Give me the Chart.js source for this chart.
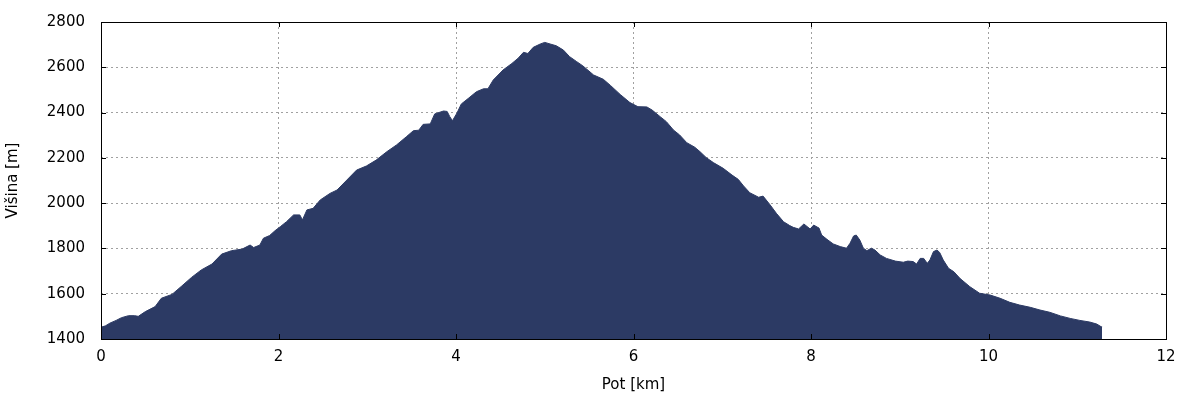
<!DOCTYPE html>
<html>
<head>
<meta charset="utf-8">
<script src="https://cdn.jsdelivr.net/npm/chart.js@4"></script>
<style>
  html, body { margin: 0; padding: 0; background: #fff; }
  #wrap { width: 1200px; height: 400px; }
</style>
</head>
<body>
<div id="wrap"><canvas id="profil"></canvas></div>
<script>
// razdalja [km] in višina [m], odčitano s profila
var razdalja = [
  0.00, 0.05, 0.10, 0.17, 0.23, 0.31, 0.38, 0.42, 0.50, 0.61, 0.68, 0.80, 0.91,
  1.02, 1.13, 1.25, 1.36, 1.47, 1.59, 1.68, 1.72, 1.79, 1.83, 1.90, 1.96,
  2.02, 2.09, 2.17, 2.24, 2.27, 2.32, 2.39, 2.47, 2.58, 2.66, 2.77, 2.88, 2.99,
  3.10, 3.22, 3.33, 3.44, 3.52, 3.58, 3.63, 3.71, 3.76, 3.86, 3.90, 3.93, 3.96,
  4.01, 4.06, 4.14, 4.23, 4.31, 4.36, 4.42, 4.53, 4.63, 4.70, 4.76, 4.81, 4.87, 4.95,
  5.00, 5.06, 5.13, 5.21, 5.28, 5.36, 5.43, 5.55, 5.66, 5.74, 5.85, 5.96,
  6.05, 6.15, 6.21, 6.30, 6.37, 6.45, 6.52, 6.60, 6.69, 6.75, 6.82, 6.90,
  7.01, 7.11, 7.18, 7.24, 7.31, 7.41, 7.46, 7.54, 7.61, 7.69, 7.76, 7.80, 7.86, 7.92, 7.99,
  8.03, 8.09, 8.12, 8.18, 8.25, 8.33, 8.40, 8.44, 8.48, 8.51, 8.55, 8.59, 8.63, 8.68, 8.72, 8.78, 8.85, 8.95,
  9.04, 9.09, 9.15, 9.19, 9.23, 9.27, 9.31, 9.34, 9.38, 9.42, 9.45, 9.49, 9.55, 9.61, 9.68, 9.79, 9.90,
  10.02, 10.13, 10.24, 10.35, 10.47, 10.58, 10.69, 10.81, 10.92,
  11.03, 11.14, 11.22, 11.27, 11.28
];
var visina = [
  1452, 1458, 1470, 1482, 1494, 1503, 1503, 1500, 1521, 1543, 1580, 1597, 1634,
  1672, 1705, 1731, 1775, 1790, 1797, 1815, 1804, 1815, 1845, 1857, 1878,
  1896, 1918, 1948, 1948, 1926, 1970, 1977, 2014, 2043, 2058, 2102, 2146, 2164,
  2190, 2227, 2257, 2293, 2320, 2322, 2348, 2350, 2394, 2407, 2405, 2382, 2364,
  2397, 2438, 2463, 2492, 2505, 2505, 2544, 2588, 2617, 2640, 2666, 2661, 2688, 2703,
  2710, 2703, 2695, 2676, 2647, 2625, 2606, 2566, 2547, 2520, 2480, 2444,
  2426, 2425, 2411, 2382, 2360, 2323, 2301, 2267, 2247, 2227, 2201, 2179,
  2154, 2124, 2105, 2076, 2046, 2026, 2031, 1992, 1955, 1918, 1901, 1893, 1886, 1908, 1886,
  1903, 1890, 1859, 1840, 1820, 1808, 1801, 1823, 1855, 1859, 1837, 1801, 1790, 1801, 1793, 1771, 1756, 1744,
  1739, 1744, 1742, 1731, 1756, 1756, 1734, 1749, 1786, 1793, 1782, 1749, 1712, 1697, 1667, 1631, 1602,
  1594, 1580, 1562, 1550, 1540, 1528, 1518, 1502, 1491,
  1482, 1475, 1466, 1454, 1454
];
var xTicks = [0, 2, 4, 6, 8, 10, 12];
var yTicks = [1400, 1600, 1800, 2000, 2200, 2400, 2600, 2800];

var barva = '#2c3a64';
var pisava = { family: "'DejaVu Sans', sans-serif", size: 15 };

var tocke = razdalja.map(function(d, i) { return { x: d, y: visina[i] }; });

// okvir in kratke oznake navznoter (kot gnuplot)
var okvir = {
  id: 'okvir',
  afterDraw: function(chart) {
    var a = chart.chartArea, c = chart.ctx;
    var sx = chart.scales.x, sy = chart.scales.y, t = 5;
    c.save();
    c.strokeStyle = '#000';
    c.lineWidth = 1;
    c.beginPath();
    xTicks.forEach(function(v) {
      var px = Math.round(sx.getPixelForValue(v)) + 0.5;
      c.moveTo(px, a.bottom); c.lineTo(px, a.bottom - t);
      c.moveTo(px, a.top); c.lineTo(px, a.top + t);
    });
    yTicks.forEach(function(v) {
      var py = Math.round(sy.getPixelForValue(v)) + 0.5;
      c.moveTo(a.left, py); c.lineTo(a.left + t, py);
      c.moveTo(a.right, py); c.lineTo(a.right - t, py);
    });
    c.stroke();
    c.strokeRect(Math.round(a.left) + 0.5, Math.round(a.top) + 0.5,
      Math.round(a.right - a.left), Math.round(a.bottom - a.top));
    c.restore();
  }
};

new Chart(document.getElementById('profil'), {
  type: 'line',
  data: {
    datasets: [{
      data: tocke,
      borderColor: barva,
      borderWidth: 1,
      backgroundColor: barva,
      fill: 'start',
      pointRadius: 0,
      tension: 0
    }]
  },
  options: {
    responsive: true,
    maintainAspectRatio: false,
    animation: false,
    events: [],
    layout: { padding: { top: 22, right: 34, left: 0, bottom: 0 } },
    plugins: { legend: { display: false }, tooltip: { enabled: false } },
    scales: {
      x: {
        type: 'linear',
        min: 0, max: 12,
        afterFit: function(s) { s.height = 61; s.paddingLeft = 0; s.paddingRight = 0; },
        afterBuildTicks: function(s) { s.ticks = xTicks.map(function(v) { return { value: v }; }); },
        ticks: { color: '#000', font: pisava, padding: 9, maxRotation: 0,
          callback: function(v) { return String(v); } },
        grid: { color: '#a0a0a0', lineWidth: 1, drawTicks: false },
        border: { display: false, dash: [2, 3] },
        title: { display: true, text: 'Pot [km]', color: '#000', font: pisava, padding: { top: 0, bottom: 6 } }
      },
      y: {
        min: 1400, max: 2800,
        afterFit: function(s) { s.width = 101; s.paddingTop = 0; s.paddingBottom = 0; },
        afterBuildTicks: function(s) { s.ticks = yTicks.map(function(v) { return { value: v }; }); },
        ticks: { color: '#000', font: pisava, padding: 16,
          callback: function(v) { return String(v); } },
        grid: { color: '#a0a0a0', lineWidth: 1, drawTicks: false },
        border: { display: false, dash: [2, 3] },
        title: { display: true, text: 'Višina [m]', color: '#000', font: pisava, padding: { top: 4, bottom: 0 } }
      }
    }
  },
  plugins: [okvir]
});
</script>
</body>
</html>
